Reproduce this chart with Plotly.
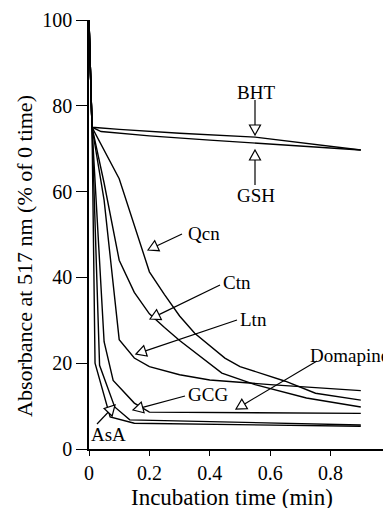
import math
import plotly.graph_objects as go

# ---------------- data ----------------
BHT_t = [0, 0.01, 0.1, 0.3, 0.55, 0.9]
BHT_v = [100, 75, 74.5, 73.6, 72.7, 69.7]

GSH_t = [0, 0.01, 0.04, 0.2, 0.4, 0.55, 0.9]
GSH_v = [100, 75, 74.0, 73.0, 72.0, 71.3, 69.7]

Qcn_t = [0, 0.01, 0.1, 0.2, 0.25, 0.3, 0.35, 0.45, 0.5, 0.65, 0.75, 0.9]
Qcn_v = [100, 75, 63, 41.3, 36, 31, 27, 21.2, 19.2, 15.8, 13.0, 11.4]

Ctn_t = [0, 0.01, 0.05, 0.1, 0.15, 0.2, 0.25, 0.3, 0.44, 0.55, 0.72, 0.9]
Ctn_v = [100, 75, 62, 44, 36.5, 31.5, 28.3, 25.3, 17.7, 15.0, 11.9, 9.8]

Ltn_t = [0, 0.01, 0.05, 0.1, 0.15, 0.2, 0.3, 0.4, 0.6, 0.9]
Ltn_v = [100, 75, 58, 25.5, 21.2, 19.2, 17.3, 16.1, 15.0, 13.6]

Domapine_t = [0, 0.01, 0.05, 0.08, 0.15, 0.2, 0.9]
Domapine_v = [100, 75, 25, 16, 10.7, 8.6, 8.3]

GCG_t = [0, 0.01, 0.035, 0.085, 0.135, 0.9]
GCG_v = [100, 75, 19.5, 9.8, 6.8, 5.6]

AsA_t = [0, 0.01, 0.02, 0.07, 0.15, 0.9]
AsA_v = [100, 75, 20, 7.5, 6.0, 5.3]

SERIES = [
    ("BHT", BHT_t, BHT_v),
    ("GSH", GSH_t, GSH_v),
    ("Qcn", Qcn_t, Qcn_v),
    ("Ctn", Ctn_t, Ctn_v),
    ("Ltn", Ltn_t, Ltn_v),
    ("Domapine", Domapine_t, Domapine_v),
    ("GCG", GCG_t, GCG_v),
    ("AsA", AsA_t, AsA_v),
]

X_TICKS = [0, 0.2, 0.4, 0.6, 0.8, 1]
X_TICK_TEXT = ["0", "0.2", "0.4", "0.6", "0.8", "1"]
Y_TICKS = [0, 20, 40, 60, 80, 100]
Y_TICK_TEXT = ["0", "20", "40", "60", "80", "100"]

X_TITLE = "Incubation time (min)"
Y_TITLE = "Absorbance at 517 nm (% of 0 time)"

# ---------------- layout constants ----------------
PAGE_OFF = 8          # default body margin of the html page
W, H = 383, 500
ML, MR, MT, MB = 81, 0, 12, 59
X_RANGE = [0, 1]
Y_RANGE = [0, 100]
PW = W - ML - MR
PH = H - MT - MB
FONT = "Liberation Serif, Times New Roman, serif"

# label annotations: text, text centre, line tail, arrow tip (window pixels)
LABELS = [
    ("BHT", (256, 92), (255, 100), (255, 135)),
    ("GSH", (256, 195), (255, 185), (255, 150)),
    ("Qcn", (204, 233), (182, 234), (148, 250)),
    ("Ctn", (237, 282), (220, 285), (150, 319)),
    ("Ltn", (253, 319), (237, 320), (136, 354)),
    ("Domapine", (349, 355), (317, 361), (236, 409)),
    ("GCG", (208, 394), (185, 396), (133, 410)),
    ("AsA", (108, 434), (97, 424), (115, 405)),
]


def to_data(px, py):
    fx, fy = px - PAGE_OFF, py - PAGE_OFF
    t = X_RANGE[0] + (fx - ML) / PW * (X_RANGE[1] - X_RANGE[0])
    v = Y_RANGE[1] - (fy - MT) / PH * (Y_RANGE[1] - Y_RANGE[0])
    return t, v


def to_paper(px, py):
    fx, fy = px - PAGE_OFF, py - PAGE_OFF
    return (fx - ML) / PW, (H - MB - fy) / PH


fig = go.Figure()
for name, t, v in SERIES:
    fig.add_trace(go.Scatter(x=t, y=v, mode="lines", name=name,
                             line=dict(color="black", width=1.4),
                             showlegend=False, hoverinfo="skip"))

shapes = []
annotations = []
TRI_H, TRI_HW = 10, 5.5
for text, (cx, cy), (tx, ty), (px, py) in LABELS:
    dx, dy = px - tx, py - ty
    n = math.hypot(dx, dy)
    dx, dy = dx / n, dy / n
    bx, by = px - TRI_H * dx, py - TRI_H * dy
    qx, qy = -dy, dx
    c1 = (bx + TRI_HW * qx, by + TRI_HW * qy)
    c2 = (bx - TRI_HW * qx, by - TRI_HW * qy)
    a = to_data(tx, ty)
    b = to_data(bx, by)
    shapes.append(dict(type="line", xref="x", yref="y", x0=a[0], y0=a[1],
                       x1=b[0], y1=b[1], line=dict(color="black", width=1.2)))
    pts = [to_data(px, py), to_data(*c1), to_data(*c2)]
    path = "M{},{} L{},{} L{},{} Z".format(pts[0][0], pts[0][1], pts[1][0], pts[1][1],
                                            pts[2][0], pts[2][1])
    shapes.append(dict(type="path", xref="x", yref="y", path=path,
                       fillcolor="white", line=dict(color="black", width=1.2)))
    c = to_data(cx, cy)
    annotations.append(dict(x=c[0], y=c[1], xref="x", yref="y", text=text,
                            showarrow=False, xanchor="center", yanchor="middle",
                            font=dict(family=FONT, size=19, color="black")))

xt = to_paper(232, 497)
annotations.append(dict(x=xt[0], y=xt[1], xref="paper", yref="paper", text=X_TITLE,
                        showarrow=False, xanchor="center", yanchor="middle",
                        font=dict(family=FONT, size=23, color="black")))
yt = to_paper(24, 256)
annotations.append(dict(x=yt[0], y=yt[1], xref="paper", yref="paper", text=Y_TITLE,
                        showarrow=False, xanchor="center", yanchor="middle", textangle=-90,
                        font=dict(family=FONT, size=22, color="black")))

fig.update_layout(
    width=W, height=H,
    margin=dict(l=ML, r=MR, t=MT, b=MB, pad=0),
    paper_bgcolor="white", plot_bgcolor="white",
    font=dict(family=FONT, color="black"),
    shapes=shapes, annotations=annotations,
    xaxis=dict(range=X_RANGE, tickvals=X_TICKS, ticktext=X_TICK_TEXT,
               showgrid=False, zeroline=False, showline=True, linecolor="black",
               linewidth=1.5, ticks="outside", ticklen=5, tickwidth=1.3,
               tickcolor="black", tickfont=dict(family=FONT, size=20, color="black"),
               ticklabeloverflow="allow", automargin=False),
    yaxis=dict(range=Y_RANGE, tickvals=Y_TICKS, ticktext=Y_TICK_TEXT,
               showgrid=False, zeroline=False, showline=True, linecolor="black",
               linewidth=1.5, ticks="outside", ticklen=11, tickwidth=1.3,
               tickcolor="black", tickfont=dict(family=FONT, size=20, color="black"),
               automargin=False),
)

fig.write_html("out.html")
